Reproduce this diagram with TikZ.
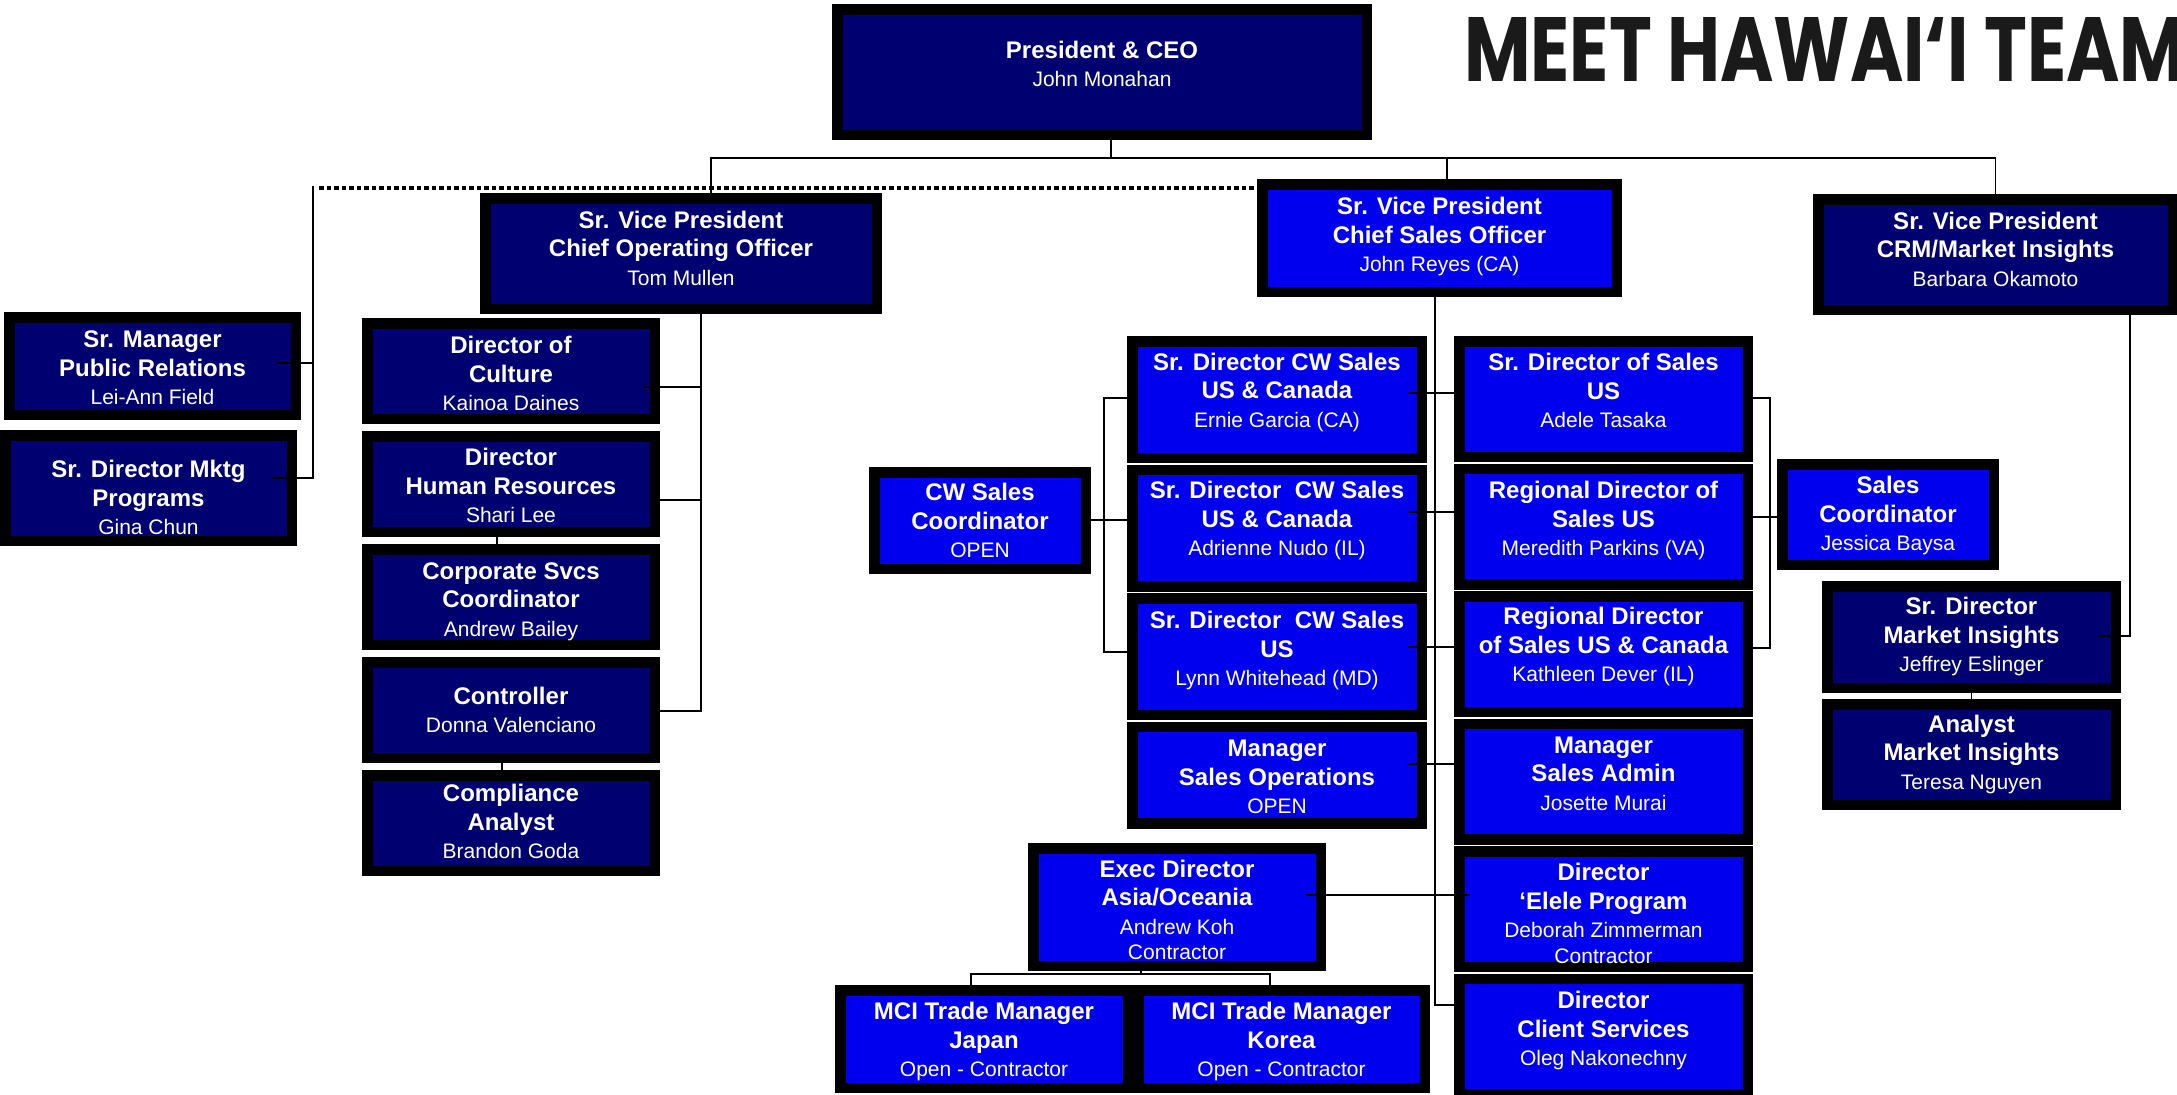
\documentclass[tikz,border=0pt]{standalone}
\usepackage{fontspec}
\setmainfont{Liberation Sans}
\newfontfamily\headfont{Poppins}
\usepackage{graphicx}
\usepackage{xcolor}
\usetikzlibrary{positioning}

\definecolor{hnavy}{RGB}{0,0,112}
\definecolor{hblue}{RGB}{0,0,238}
\definecolor{headgray}{RGB}{26,26,26}
\newcommand{\who}[1]{{\fontsize{21}{25}\selectfont\mdseries #1}}
\newcommand{\orgcard}[1]{\begin{tabular}[b]{@{}c@{}}#1\end{tabular}}

\begin{document}
\begin{tikzpicture}[
    x=1pt, y=-1pt,
    font=\fontsize{24}{28.5}\selectfont\bfseries,
    navybox/.style={rectangle, draw=black, line width=10.5pt, fill=hnavy, text=white, inner sep=0pt, outer sep=5.25pt},
    bluebox/.style={navybox, fill=hblue},
    boxsize/.style 2 args={minimum width=#1pt-10.5pt, minimum height=#2pt-10.5pt},
    tb/.style={text height=#1pt, text depth=0pt},
    link/.style={line width=1.6pt},
    dotlink/.style={line width=4pt, dash pattern=on 4.5pt off 3pt}
]
\useasboundingbox (0,0) rectangle (2177,1095);
\clip (0,0) rectangle (2177,1095);

% Title
\node (title) [anchor=south west, inner sep=0pt, text=headgray] at (1464,82) {\resizebox{722pt}{64pt}{\headfont\bfseries MEET HAWAI‘I TEAM}};

% Nodes
\node (ceo) [navybox, boxsize={540}{136}, tb=29] at (1102,72) {\orgcard{President \& CEO\\\who{John Monahan}}};
\node (coo) [navybox, boxsize={402}{121}, tb=63] at (681,253.5) {\orgcard{Sr. Vice President\\Chief Operating Officer\\\who{Tom Mullen}}};
\node (cso) [bluebox, boxsize={365}{118}, tb=67] at (1439.5,238) {\orgcard{Sr. Vice President\\Chief Sales Officer\\\who{John Reyes (CA)}}};
\node (crm) [navybox, boxsize={365}{121}, tb=63] at (1995.5,254.5) {\orgcard{Sr. Vice President\\CRM/Market Insights\\\who{Barbara Okamoto}}};

\node (pr) [navybox, boxsize={297}{108}, tb=77] at (152.5,366) {\orgcard{Sr. Manager\\Public Relations\\\who{Lei-Ann Field}}};
\node (mktg) [navybox, boxsize={297}{116}, tb=93.6] at (148.5,488) {\orgcard{Sr. Director Mktg\\Programs\\\who{Gina Chun}}};

\node (culture) [navybox, boxsize={298}{106}, tb=79.8] at (511,371) {\orgcard{Director of\\Culture\\\who{Kainoa Daines}}};
\node (hr) [navybox, boxsize={298}{106}, tb=77, below=7pt of culture] {\orgcard{Director\\Human Resources\\\who{Shari Lee}}};
\node (corp) [navybox, boxsize={298}{106}, tb=78.2, below=7pt of hr] {\orgcard{Corporate Svcs\\Coordinator\\\who{Andrew Bailey}}};
\node (ctrl) [navybox, boxsize={298}{106}, tb=45.7, below=7pt of corp] {\orgcard{Controller\\\who{Donna Valenciano}}};
\node (compl) [navybox, boxsize={298}{106}, tb=71.4, below=7pt of ctrl] {\orgcard{Compliance\\Analyst\\\who{Brandon Goda}}};

\node (ernie) [bluebox, boxsize={300}{127}, tb=55.8] at (1277,399.5) {\orgcard{Sr. Director CW Sales\\US \& Canada\\\who{Ernie Garcia (CA)}}};
\node (adrienne) [bluebox, boxsize={300}{127}, tb=55.8, below=1.5pt of ernie] {\orgcard{Sr. Director~ CW Sales\\US \& Canada\\\who{Adrienne Nudo (IL)}}};
\node (lynn) [bluebox, boxsize={300}{127}, tb=58.6, below=1.5pt of adrienne] {\orgcard{Sr. Director~ CW Sales\\US\\\who{Lynn Whitehead (MD)}}};
\node (salesops) [bluebox, boxsize={300}{107}, tb=77, below=1.5pt of lynn] {\orgcard{Manager\\Sales Operations\\\who{OPEN}}};

\node (adele) [bluebox, boxsize={299}{126}, tb=57.6] at (1603.5,399) {\orgcard{Sr. Director of Sales\\US\\\who{Adele Tasaka}}};
\node (meredith) [bluebox, boxsize={299}{126}, tb=58.6, below=1.5pt of adele] {\orgcard{Regional Director of\\Sales US\\\who{Meredith Parkins (VA)}}};
\node (kathleen) [bluebox, boxsize={299}{126}, tb=55.8, below=1.5pt of meredith] {\orgcard{Regional Director\\of Sales US \& Canada\\\who{Kathleen Dever (IL)}}};
\node (josette) [bluebox, boxsize={299}{126}, tb=57.6, below=1.5pt of kathleen] {\orgcard{Manager\\Sales Admin\\\who{Josette Murai}}};
\node (deborah) [bluebox, boxsize={299}{126}, tb=108, below=1.5pt of josette] {\orgcard{Director\\‘Elele Program\\\who{Deborah Zimmerman}\\[-3pt]\who{Contractor}}};
\node (oleg) [bluebox, boxsize={299}{126}, tb=58.6, below=1.5pt of deborah] {\orgcard{Director\\Client Services\\\who{Oleg Nakonechny}}};

\node (cwcoord) [bluebox, boxsize={222}{107}, tb=74.2] at (980,520.5) {\orgcard{CW Sales\\Coordinator\\\who{OPEN}}};
\node (jessica) [bluebox, boxsize={222}{111}, tb=72.6] at (1888,514.5) {\orgcard{Sales\\Coordinator\\\who{Jessica Baysa}}};

\node (jeffrey) [navybox, boxsize={299}{112}, tb=69.8] at (1971.5,637) {\orgcard{Sr. Director\\Market Insights\\\who{Jeffrey Eslinger}}};
\node (teresa) [navybox, boxsize={299}{111}, tb=69.8, below=6pt of jeffrey] {\orgcard{Analyst\\Market Insights\\\who{Teresa Nguyen}}};

\node (exec) [bluebox, boxsize={298}{128}, tb=105.2] at (1177,907) {\orgcard{Exec Director\\Asia/Oceania\\\who{Andrew Koh}\\[-3pt]\who{Contractor}}};
\node (japan) [bluebox, boxsize={298}{108}, tb=75.4] at (984,1039) {\orgcard{MCI Trade Manager\\Japan\\\who{Open - Contractor}}};
\node (korea) [bluebox, boxsize={297}{108}, tb=75.4, right=0pt of japan] {\orgcard{MCI Trade Manager\\Korea\\\who{Open - Contractor}}};

% Connections
\coordinate (bus) at ([xshift=9pt]ceo.south |- 0,158);
\draw [link] ([xshift=9pt]ceo.south) -- (bus);
\draw [link] ([xshift=30pt]coo.north) |- (bus) -| (crm.north);
\draw [link] ([xshift=7.5pt]cso.north) -- ([xshift=7.5pt]cso.north |- bus);

\coordinate (prbus) at (313,186);
\draw [link] (prbus) |- ([xshift=-25pt]mktg.east |- 0,478);
\draw [link] ([xshift=-24pt]pr.east |- 0,363) -- (prbus |- 0,363);
\draw [dotlink] ([xshift=6pt]prbus |- 0,188) -- (cso.west |- 0,188);

\coordinate (coobus) at ([xshift=20pt]coo.south);
\draw [link] (coobus) |- (ctrl.east |- 0,711);
\draw [link] ([xshift=-16pt]culture.east |- 0,387) -- (coobus |- 0,387);
\draw [link] (hr.east |- 0,500) -- (coobus |- 0,500);
\draw [link] ([xshift=-14pt]hr.south) -- ([xshift=-14pt]corp.north);
\draw [link] ([xshift=-9pt]ctrl.south) -- ([xshift=-9pt]compl.north);

\draw [link] ([xshift=-4.5pt]cso.south) |- (oleg.west |- 0,1005);
\draw [link] ([xshift=-19.5pt]ernie.east |- 0,393) -- (adele.west |- 0,393);
\draw [link] ([xshift=-19.5pt]adrienne.east |- 0,512) -- (meredith.west |- 0,512);
\draw [link] ([xshift=-19.5pt]lynn.east |- 0,647) -- (kathleen.west |- 0,647);
\draw [link] ([xshift=-19.5pt]salesops.east |- 0,764) -- (josette.west |- 0,764);
\draw [link] ([xshift=-20pt]exec.east |- 0,895) -- ([xshift=16pt]deborah.west |- 0,895);

\draw [link] (ernie.west |- 0,398) -- ++(-23,0) |- (lynn.west |- 0,652);
\draw [link] (cwcoord.east |- 0,520) -- (adrienne.west |- 0,520);
\draw [link] (adele.east |- 0,398) -- ++(17,0) |- (kathleen.east |- 0,648);
\draw [link] (meredith.east |- 0,517) -- (jessica.west |- 0,517);

\draw [link] (crm.south -| 2130,0) |- ([xshift=-22pt]jeffrey.east |- 0,636);
\draw [link] (jeffrey.south) -- (teresa.north);

\draw [link] ([xshift=-36pt]exec.south) -- ([xshift=-36pt]exec.south |- 0,974);
\draw [link] ([xshift=-13pt]japan.north) |- ([xshift=-11.5pt]korea.north |- 0,974) -- ([xshift=-11.5pt]korea.north);

\end{tikzpicture}
\end{document}
